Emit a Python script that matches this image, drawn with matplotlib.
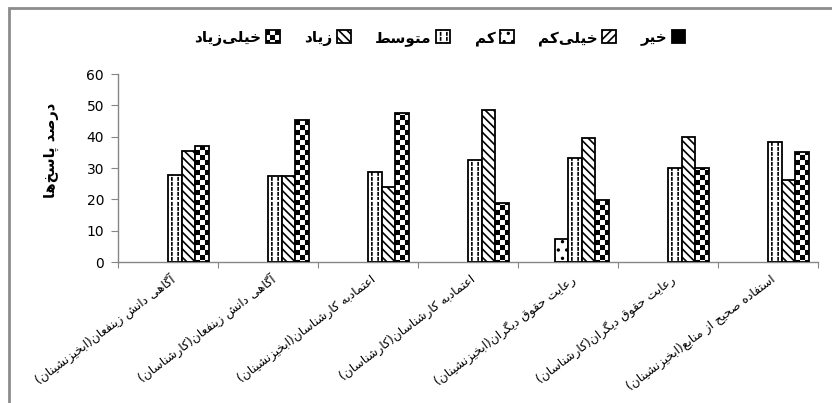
import warnings
import numpy as np
import matplotlib
matplotlib.use('Agg')
import matplotlib.pyplot as plt
from matplotlib import hatch as mhatch
from matplotlib.path import Path
from matplotlib.patches import Rectangle
import matplotlib.transforms as mtransforms

warnings.filterwarnings('ignore')

# --- data ---
categories = [
    'آگاهی دانش زینفعان(ابخیزنشینان)',
    'آگاهی دانش زینفعان(کارشناسان)',
    'اعتمادبه کارشناسان(ابخیزنشینان)',
    'اعتمادبه کارشناسان(کارشناسان)',
    'رعایت حقوق دیگران(ابخیزنشینان)',
    'رعایت حقوق دیگران(کارشناسان)',
    'استفاده صحیح از منابع(ابخیزنشینان)',
]
series_names = ['خیر', 'خیلی‌کم', 'کم', 'متوسط', 'زیاد', 'خیلی‌زیاد']
kheyr = [0, 0, 0, 0, 0, 0, 0]
kheyli_kam = [0, 0, 0, 0, 0, 0, 0]
kam = [0, 0, 0, 0, 7.5, 0, 0]
motevaset = [27.7, 27.3, 28.6, 32.5, 33.1, 29.9, 38.4]
ziad = [35.3, 27.3, 24.0, 48.5, 39.5, 40.0, 26.3]
kheyli_ziad = [37.0, 45.2, 47.5, 18.9, 19.7, 29.9, 35.1]
y_ticks = [0, 10, 20, 30, 40, 50, 60]
y_title = 'درصد پاسخ‌ها'

# --- minimal persian shaping (matplotlib has no bidi / joining) ---
FORMS = {
    'ا': ('\uFE8D', '\uFE8E', None, None), 'آ': ('\uFE81', '\uFE82', None, None),
    'ب': ('\uFE8F', '\uFE90', '\uFE91', '\uFE92'), 'پ': ('\uFB56', '\uFB57', '\uFB58', '\uFB59'),
    'ت': ('\uFE95', '\uFE96', '\uFE97', '\uFE98'), 'ث': ('\uFE99', '\uFE9A', '\uFE9B', '\uFE9C'),
    'ج': ('\uFE9D', '\uFE9E', '\uFE9F', '\uFEA0'), 'چ': ('\uFB7A', '\uFB7B', '\uFB7C', '\uFB7D'),
    'ح': ('\uFEA1', '\uFEA2', '\uFEA3', '\uFEA4'), 'خ': ('\uFEA5', '\uFEA6', '\uFEA7', '\uFEA8'),
    'د': ('\uFEA9', '\uFEAA', None, None), 'ذ': ('\uFEAB', '\uFEAC', None, None),
    'ر': ('\uFEAD', '\uFEAE', None, None), 'ز': ('\uFEAF', '\uFEB0', None, None),
    'ژ': ('\uFB8A', '\uFB8B', None, None),
    'س': ('\uFEB1', '\uFEB2', '\uFEB3', '\uFEB4'), 'ش': ('\uFEB5', '\uFEB6', '\uFEB7', '\uFEB8'),
    'ص': ('\uFEB9', '\uFEBA', '\uFEBB', '\uFEBC'), 'ض': ('\uFEBD', '\uFEBE', '\uFEBF', '\uFEC0'),
    'ط': ('\uFEC1', '\uFEC2', '\uFEC3', '\uFEC4'), 'ظ': ('\uFEC5', '\uFEC6', '\uFEC7', '\uFEC8'),
    'ع': ('\uFEC9', '\uFECA', '\uFECB', '\uFECC'), 'غ': ('\uFECD', '\uFECE', '\uFECF', '\uFED0'),
    'ف': ('\uFED1', '\uFED2', '\uFED3', '\uFED4'), 'ق': ('\uFED5', '\uFED6', '\uFED7', '\uFED8'),
    'ک': ('\uFB8E', '\uFB8F', '\uFB90', '\uFB91'), 'گ': ('\uFB92', '\uFB93', '\uFB94', '\uFB95'),
    'ل': ('\uFEDD', '\uFEDE', '\uFEDF', '\uFEE0'), 'م': ('\uFEE1', '\uFEE2', '\uFEE3', '\uFEE4'),
    'ن': ('\uFEE5', '\uFEE6', '\uFEE7', '\uFEE8'), 'ه': ('\uFEE9', '\uFEEA', '\uFEEB', '\uFEEC'),
    'و': ('\uFEED', '\uFEEE', None, None), 'ی': ('\uFBFC', '\uFBFD', '\uFBFE', '\uFBFF'),
}
MIRROR = {'(': ')', ')': '('}


def fa(text):
    out = []
    for i, ch in enumerate(text):
        if ch not in FORMS:
            if ch != '\u200c':
                out.append(MIRROR.get(ch, ch))
            continue
        prev = text[i - 1] if i > 0 else ''
        nxt = text[i + 1] if i + 1 < len(text) else ''
        join_prev = prev in FORMS and FORMS[prev][2] is not None
        join_next = nxt in FORMS and FORMS[ch][2] is not None
        iso, fin, ini, med = FORMS[ch]
        if join_prev and join_next:
            out.append(med)
        elif join_prev:
            out.append(fin)
        elif join_next:
            out.append(ini)
        else:
            out.append(iso)
    return ''.join(reversed(out))


# --- custom hatches: dashed vertical lines (':') and checkerboard ('#') ---
class DashedVertical(mhatch.HatchPatternBase):
    def __init__(self, hatch, density):
        self.cols = 16 * hatch.count(':')
        self.dashes = 20
        self.num_vertices = self.cols * self.dashes * 2

    def set_vertices_and_codes(self, vertices, codes):
        k = 0
        for i in range(self.cols):
            x = (i + 0.5) / self.cols
            for j in range(self.dashes):
                y0 = j / self.dashes
                vertices[k] = (x, y0)
                vertices[k + 1] = (x, y0 + 0.45 / self.dashes)
                codes[k] = Path.MOVETO
                codes[k + 1] = Path.LINETO
                k += 2


class Checker(mhatch.HatchPatternBase):
    def __init__(self, hatch, density):
        self.n = 20 if '#' in hatch else 0
        self.num_vertices = (self.n * self.n // 2) * 5

    def set_vertices_and_codes(self, vertices, codes):
        n = self.n
        s = 1.0 / n
        d = 0.008
        k = 0
        for r in range(n):
            for c in range(n):
                if (r + c) % 2:
                    continue
                x0, y0, x1, y1 = c * s + d, r * s + d, (c + 1) * s - d, (r + 1) * s - d
                vertices[k:k + 5] = [(x0, y0), (x1, y0), (x1, y1), (x0, y1), (x0, y0)]
                codes[k:k + 5] = [Path.MOVETO, Path.LINETO, Path.LINETO, Path.LINETO, Path.CLOSEPOLY]
                k += 5


mhatch._hatch_types.append(DashedVertical)
mhatch._hatch_types.append(Checker)

plt.rcParams['font.family'] = ['DejaVu Sans']
plt.rcParams['hatch.linewidth'] = 1.2
plt.rcParams['hatch.color'] = 'black'

fig = plt.figure(figsize=(8.32, 4.03), dpi=100)
ax = fig.add_axes([118 / 832, 1 - 262 / 403, 700 / 832, 188 / 403])

all_series = [kheyr, kheyli_kam, kam, motevaset, ziad, kheyli_ziad]
styles = [
    dict(color='black', hatch=None),
    dict(color='white', hatch='////'),
    dict(color='white', hatch='..'),
    dict(color='white', hatch=':'),
    dict(color='white', hatch='\\\\\\\\'),
    dict(color='white', hatch='#'),
]

x = np.arange(len(categories))
w = 0.135
bars = []
for j, (vals, st) in enumerate(zip(all_series, styles)):
    b = ax.bar(x + (j - 2.5) * w, vals, w, color=st['color'], hatch=st['hatch'],
               edgecolor='black', linewidth=1.3, label=fa(series_names[j]), zorder=3)
    for p in b:
        if p.get_height() == 0:
            p.set_visible(False)
    bars.append(b)

ax.set_xlim(-0.5, len(categories) - 0.5)
ax.set_ylim(0, 60)
ax.set_yticks(y_ticks)
ax.tick_params(axis='y', labelsize=10, length=5, color='#868686', pad=5)
ax.set_xticks(np.arange(-0.5, len(categories)))
ax.tick_params(axis='x', length=4, color='#868686', labelbottom=False)

for s in ['top', 'right']:
    ax.spines[s].set_visible(False)
for s in ['left', 'bottom']:
    ax.spines[s].set_color('#868686')
    ax.spines[s].set_linewidth(1.0)

# category labels, rotated
trans = mtransforms.blended_transform_factory(ax.transData, ax.transAxes)
for i, cat in enumerate(categories):
    ax.text(i + 0.06, -0.085, fa(cat), transform=trans, rotation=37,
            rotation_mode='anchor', ha='right', va='center', fontsize=8.8)

fig.text(51 / 832, 1 - 150 / 403, fa(y_title), rotation=90, ha='center', va='center',
         fontsize=10.5, fontweight='bold')

handles = [bars[j] for j in range(5, -1, -1)]
labels = [fa(series_names[j]) for j in range(5, -1, -1)]
leg = fig.legend(handles, labels, loc='center', bbox_to_anchor=(440 / 832, 1 - 38 / 403),
                 ncol=6, frameon=False, markerfirst=False, handlelength=0.9, handleheight=0.9,
                 handletextpad=0.3, columnspacing=1.6, prop={'size': 11, 'weight': 'bold'})
for h in leg.legend_handles:
    h.set_visible(True)

# outer chart-area frame
fig.patches.append(Rectangle((9 / 832, -0.2), 1.2, 1.2 - 8 / 403, transform=fig.transFigure,
                             fill=False, edgecolor='#8c8c8c', linewidth=2.0))

fig.savefig('out.png', dpi=100)
